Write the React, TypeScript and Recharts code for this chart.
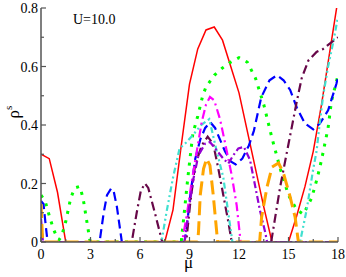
import React from 'react';
import { LineChart, Line, XAxis, YAxis, Label } from 'recharts';

// chemical potential (x) and superfluid density (y) per curve
const muRed = [0, 0.5, 1, 1.5, 7.5, 8, 8.5, 9, 9.5, 10, 10.5, 11, 11.5, 12, 12.5, 13, 13.5, 14, 15, 15.5, 16, 16.5, 17, 17.5, 18];
const rhoRed = [0.3, 0.285, 0.17, 0, 0, 0.11, 0.33, 0.54, 0.66, 0.725, 0.735, 0.69, 0.6, 0.51, 0.38, 0.25, 0.12, 0, 0, 0.09, 0.19, 0.31, 0.47, 0.65, 0.83];

const muGreen = [0, 0.25, 0.5, 0.75, 1, 1.1, 1.25, 1.5, 1.8, 2.05, 2.35, 2.55, 2.75, 2.95, 3, 8.5, 8.7, 8.9, 9.2, 9.5, 9.8, 10, 10.5, 11, 11.5, 12, 12.5, 13, 13.5, 14, 14.5, 15, 15.5, 15.9, 16.4, 16.75, 17, 17.4, 17.6, 18];
const rhoGreen = [0.16, 0.14, 0.09, 0.045, 0.012, 0.008, 0.02, 0.07, 0.15, 0.185, 0.19, 0.15, 0.08, 0.01, 0, 0, 0.11, 0.22, 0.37, 0.43, 0.5, 0.53, 0.57, 0.595, 0.615, 0.63, 0.615, 0.56, 0.47, 0.355, 0.25, 0.16, 0.11, 0.095, 0.15, 0.22, 0.28, 0.39, 0.48, 0.57];

const muBlue = [0, 0.15, 0.3, 0.4, 3.55, 3.8, 4.0, 4.25, 4.4, 4.6, 4.75, 4.9, 8.7, 8.85, 9.05, 9.35, 9.65, 9.95, 10.25, 10.55, 10.85, 11.15, 11.5, 11.8, 12.2, 12.6, 12.9, 13.35, 13.85, 14.3, 14.7, 15.1, 15.5, 16, 16.5, 16.9, 17.4, 17.9, 18];
const rhoBlue = [0.14, 0.13, 0.05, 0, 0, 0.1, 0.16, 0.183, 0.175, 0.12, 0.06, 0, 0, 0.06, 0.16, 0.285, 0.35, 0.39, 0.41, 0.39, 0.35, 0.31, 0.275, 0.265, 0.285, 0.33, 0.38, 0.495, 0.553, 0.57, 0.553, 0.52, 0.46, 0.405, 0.385, 0.405, 0.45, 0.54, 0.565];

const muMaroon = [0, 5.5, 5.8, 6.05, 6.3, 6.5, 6.9, 7.35, 8.8, 9.03, 9.33, 9.74, 10.1, 10.44, 10.75, 11.05, 11.35, 11.56, 13.95, 14.5, 15, 15.5, 15.8, 16.2, 16.7, 17.1, 17.5, 18];
const rhoMaroon = [0, 0, 0.1, 0.175, 0.2, 0.185, 0.1, 0, 0, 0.125, 0.26, 0.33, 0.36, 0.335, 0.25, 0.16, 0.07, 0, 0, 0.19, 0.335, 0.48, 0.56, 0.62, 0.65, 0.66, 0.678, 0.7];

const muTurq = [0, 7.3, 7.6, 8.0, 8.4, 8.8, 9.2, 9.7, 10.2, 10.65, 11.05, 11.35, 11.6, 15.7, 16.1, 16.5, 16.7, 16.9, 17.1, 17.4, 17.7, 18];
const rhoTurq = [0, 0, 0.1, 0.22, 0.32, 0.34, 0.365, 0.4, 0.42, 0.31, 0.22, 0.1, 0, 0, 0.11, 0.25, 0.31, 0.41, 0.5, 0.6, 0.68, 0.77];

const muMagenta = [0, 8.55, 8.83, 9.13, 9.44, 9.74, 10.0, 10.24, 10.5, 10.85, 11.15, 11.56, 11.86, 12.1, 18];
const rhoMagenta = [0, 0, 0.09, 0.205, 0.31, 0.41, 0.47, 0.496, 0.484, 0.42, 0.34, 0.228, 0.125, 0, 0];

const muViolet = [0, 0.12, 8.7, 8.93, 9.24, 9.54, 9.94, 10.24, 10.65, 11.05, 11.35, 11.65, 11.96, 12.3, 12.67, 13.27, 13.6, 13.7, 18];
const rhoViolet = [0.08, 0, 0, 0.1, 0.217, 0.296, 0.336, 0.342, 0.313, 0.285, 0.268, 0.296, 0.32, 0.325, 0.28, 0.108, 0.03, 0, 0];

const muOrange = [0, 0.1, 9.5, 9.55, 9.65, 9.85, 10.04, 10.24, 10.44, 10.65, 10.7, 13.25, 13.37, 13.7, 14.0, 14.4, 14.7, 15.1, 15.4, 15.6, 18];
const rhoOrange = [0.13, 0, 0, 0.04, 0.16, 0.25, 0.285, 0.262, 0.16, 0.034, 0, 0, 0.085, 0.188, 0.256, 0.27, 0.234, 0.154, 0.085, 0, 0];

const xTicks = [0, 1.5, 3, 4.5, 6, 7.5, 9, 10.5, 12, 13.5, 15, 16.5, 18];
const yTicks = [0, 0.1, 0.2, 0.3, 0.4, 0.5, 0.6, 0.7, 0.8];
const yTickLabels: Record<string, string> = { '0': '0', '0.2': '0.2', '0.4': '0.4', '0.6': '0.6', '0.8': '0.8' };

const zip = (xs: number[], ys: number[]) => xs.map((x, i) => ({ x, y: ys[i] }));

const serif = '"Liberation Serif", "DejaVu Serif", serif';
const frame = '#555';

const isMajorX = (v: number) => v % 3 === 0;
const isMajorY = (v: number) => Math.round(v * 10) % 2 === 0;

const BottomTick = ({ x, y, payload }: any) => {
  const major = isMajorX(payload.value);
  return (
    <g>
      <line x1={x} x2={x} y1={y} y2={y - (major ? 5 : 3)} stroke={frame} strokeWidth={1.2} />
      {major && (
        <text x={x} y={y + 16.5} textAnchor="middle" fontSize={14} fontFamily={serif} fill="#000">
          {payload.value}
        </text>
      )}
    </g>
  );
};

const TopTick = ({ x, y, payload }: any) => (
  <line x1={x} x2={x} y1={y} y2={y + (isMajorX(payload.value) ? 5 : 3)} stroke={frame} strokeWidth={1.2} />
);

const LeftTick = ({ x, y, payload }: any) => {
  const major = isMajorY(payload.value);
  return (
    <g>
      <line x1={x} x2={x + (major ? 5 : 3)} y1={y} y2={y} stroke={frame} strokeWidth={1.2} />
      {major && (
        <text x={x - 3} y={y + 5} textAnchor="end" fontSize={14} fontFamily={serif} fill="#000">
          {yTickLabels[String(payload.value)]}
        </text>
      )}
    </g>
  );
};

const RightTick = ({ x, y, payload }: any) => (
  <line x1={x} x2={x - (isMajorY(payload.value) ? 5 : 3)} y1={y} y2={y} stroke={frame} strokeWidth={1.2} />
);

const MuLabel = ({ viewBox }: any) => (
  <text x={viewBox.x + viewBox.width / 2 - 1} y={viewBox.y + 26} textAnchor="middle" fontSize={17} fontFamily={serif} fill="#000">
    μ
  </text>
);

const RhoLabel = ({ viewBox }: any) => {
  const cx = viewBox.x + 19;
  const cy = viewBox.y + viewBox.height / 2 - 13;
  return (
    <text transform={`rotate(-90 ${cx} ${cy})`} x={cx} y={cy} textAnchor="middle" fontSize={17} fontFamily={serif} fill="#000">
      <tspan>ρ</tspan>
      <tspan dy={-7} fontSize={11}>s</tspan>
    </text>
  );
};

const series = [
  { name: 'red', data: zip(muRed, rhoRed), color: '#ff0000', width: 1.5, dash: undefined },
  { name: 'green', data: zip(muGreen, rhoGreen), color: '#00ff00', width: 3, dash: '3 6.5' },
  { name: 'blue', data: zip(muBlue, rhoBlue), color: '#0000ff', width: 2.2, dash: '9 5' },
  { name: 'maroon', data: zip(muMaroon, rhoMaroon), color: '#670748', width: 2.2, dash: '9 4 2 4' },
  { name: 'turquoise', data: zip(muTurq, rhoTurq), color: '#40e0d0', width: 2.2, dash: '6 3 2 3 2 3' },
  { name: 'magenta', data: zip(muMagenta, rhoMagenta), color: '#ff00ff', width: 2.2, dash: '9 4 2 4' },
  { name: 'violet', data: zip(muViolet, rhoViolet), color: '#9400d3', width: 2.2, dash: '7 3 2 3' },
  { name: 'orange', data: zip(muOrange, rhoOrange), color: '#ffa500', width: 3, dash: '14 6' },
];

export default function App() {
  return (
    <div style={{ position: 'absolute', left: 0, top: 0, width: 346, height: 277, background: '#fff' }}>
      <LineChart width={346} height={277} margin={{ top: 8, right: 8, bottom: 0, left: 0 }}>
        <XAxis
          dataKey="x"
          type="number"
          domain={[0, 18]}
          allowDataOverflow
          ticks={xTicks}
          interval={0}
          height={35}
          tickSize={0}
          tickMargin={0}
          tickLine={false}
          tick={(p: any) => <BottomTick {...p} />}
          axisLine={{ stroke: frame, strokeWidth: 1.5 }}
        >
          <Label content={MuLabel} />
        </XAxis>
        <XAxis
          xAxisId="top"
          orientation="top"
          dataKey="x"
          type="number"
          domain={[0, 18]}
          allowDataOverflow
          ticks={xTicks}
          interval={0}
          height={0}
          tickSize={0}
          tickMargin={0}
          tickLine={false}
          tick={(p: any) => <TopTick {...p} />}
          axisLine={{ stroke: frame, strokeWidth: 1.5 }}
        />
        <YAxis
          type="number"
          domain={[0, 0.8]}
          allowDataOverflow
          ticks={yTicks}
          interval={0}
          width={41}
          tickSize={0}
          tickMargin={0}
          tickLine={false}
          tick={(p: any) => <LeftTick {...p} />}
          axisLine={{ stroke: frame, strokeWidth: 1.5 }}
        >
          <Label content={RhoLabel} />
        </YAxis>
        <YAxis
          yAxisId="right"
          orientation="right"
          type="number"
          domain={[0, 0.8]}
          allowDataOverflow
          ticks={yTicks}
          interval={0}
          width={0}
          tickSize={0}
          tickMargin={0}
          tickLine={false}
          tick={(p: any) => <RightTick {...p} />}
          axisLine={{ stroke: frame, strokeWidth: 1.5 }}
        />
        {series.map((s) => (
          <Line
            key={s.name}
            data={s.data}
            dataKey="y"
            type="linear"
            stroke={s.color}
            strokeWidth={s.width}
            strokeDasharray={s.dash}
            dot={false}
            activeDot={false}
            isAnimationActive={false}
          />
        ))}
      </LineChart>
      <div
        style={{
          position: 'absolute',
          left: 73,
          top: 12,
          fontFamily: serif,
          fontSize: 14,
          lineHeight: '16px',
          color: '#000',
          whiteSpace: 'nowrap',
        }}
      >
        U=10.0
      </div>
    </div>
  );
}
